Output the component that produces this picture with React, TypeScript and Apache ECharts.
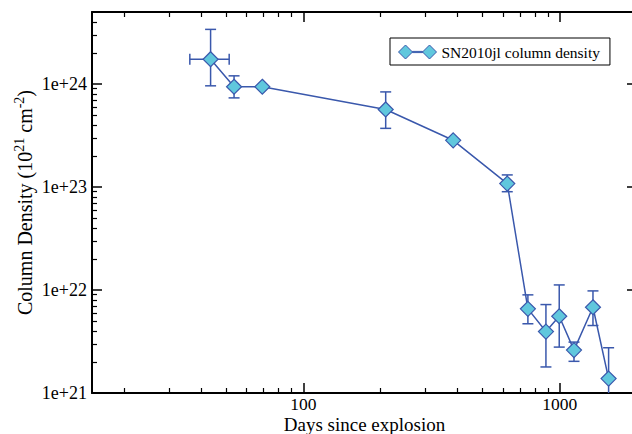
import React, { useEffect, useRef } from "react";
import * as echarts from "echarts";

// ---- data ----
const seriesName = "SN2010jl column density";
const days = [43.5, 53.7, 69.2, 209.5, 384, 624, 751, 883, 995, 1136, 1347, 1550];
const density = [1.74e24, 9.4e23, 9.4e23, 5.66e23, 2.84e23, 1.08e23, 6.56e21, 3.95e21, 5.56e21, 2.61e21, 6.8e21, 1.38e21];
const densityLow = [9.6e23, 7.33e23, null, 3.71e23, null, 9.0e22, 4.7e21, 1.79e21, 2.79e21, 2.03e21, 4.52e21, 8e20];
const densityHigh = [3.39e24, 1.2e24, null, 8.38e23, null, 1.31e23, 8.97e21, 7.22e21, 1.12e22, 3.12e21, 9.8e21, 2.75e21];
const daysLow = [36.1, null, null, null, null, null, null, null, null, null, null, null];
const daysHigh = [51.4, null, null, null, null, null, null, null, null, null, null, null];

const xMajorTicks = [100, 1000];
const xTickLabels = ["100", "1000"];
const xMinorTicks = [20, 30, 40, 50, 60, 70, 80, 90, 200, 300, 400, 500, 600, 700, 800, 900];
const yMajorTicks = [1e21, 1e22, 1e23, 1e24];
const yTickLabels = ["1e+21", "1e+22", "1e+23", "1e+24"];
const yMinorTicks = [
  2e21, 3e21, 4e21, 5e21, 6e21, 7e21, 8e21, 9e21,
  2e22, 3e22, 4e22, 5e22, 6e22, 7e22, 8e22, 9e22,
  2e23, 3e23, 4e23, 5e23, 6e23, 7e23, 8e23, 9e23,
  2e24, 3e24, 4e24,
];
const xMin = 15, xMax = 2000, yMin = 1e21, yMax = 5e24;

const LINE = "#3a58ac";
const FILL = "#60c7dd";
const FONT = "Liberation Serif";

function labelFor(values: number[], labels: string[]) {
  return (v: number) => {
    for (let i = 0; i < values.length; i++) {
      if (Math.abs(v - values[i]) / values[i] < 1e-6) return labels[i];
    }
    return "";
  };
}

export default function App() {
  const ref = useRef<HTMLDivElement>(null);
  useEffect(() => {
    if (!ref.current) return;
    const chart = echarts.init(ref.current, undefined, { renderer: "svg" });

    const axisLine = { show: true, onZero: false, lineStyle: { color: "#000", width: 2 } };
    const majTick = (vals: number[]) => ({ show: true, inside: true, length: 10, customValues: vals, lineStyle: { color: "#000", width: 1.5 } });
    const minTick = (vals: number[]) => ({ show: true, inside: true, length: 5, customValues: vals, lineStyle: { color: "#000", width: 1.2 } });
    const noLabel = { show: false };

    const xBase = { type: "log", logBase: 10, min: xMin, max: xMax, splitLine: { show: false }, gridIndex: 0 };
    const yBase = { type: "log", logBase: 10, min: yMin, max: yMax, splitLine: { show: false }, gridIndex: 0 };

    const errData = days.map((d, i) => [d, density[i], daysLow[i], daysHigh[i], densityLow[i], densityHigh[i]]);

    const option: any = {
      animation: false,
      backgroundColor: "#fff",
      grid: { left: 92, top: 12, right: -5, bottom: 41, containLabel: false, outerBoundsMode: "none" },
      legend: {
        data: [
          {
            name: seriesName,
            icon: "path://M0,7 L7,0 L14,7 L7,14 Z M14,6.4 L24,6.4 L24,7.6 L14,7.6 Z M24,7 L31,0 L38,7 L31,14 Z",
          },
        ],
        left: 390,
        top: 38,
        orient: "horizontal",
        padding: [6, 10, 5, 8],
        itemWidth: 38,
        itemHeight: 14,
        itemGap: 0,
        borderColor: "#000",
        borderWidth: 1,
        borderRadius: 0,
        backgroundColor: "#fff",
        itemStyle: { color: FILL, borderColor: LINE, borderWidth: 1 },
        lineStyle: { opacity: 0 },
        textStyle: { fontFamily: FONT, fontSize: 15.5, color: "#000", padding: [0, 0, 0, 0] },
      },
      xAxis: [
        {
          ...xBase,
          position: "bottom",
          axisLine,
          axisTick: majTick(xMajorTicks),
          axisLabel: {
            show: true,
            customValues: xMajorTicks,
            formatter: labelFor(xMajorTicks, xTickLabels),
            fontFamily: FONT,
            fontSize: 17.5,
            lineHeight: 16,
            color: "#000",
            margin: 3,
          },
          name: "Days since explosion",
          nameLocation: "middle",
          nameMoveOverlap: false,
          nameGap: 22,
          nameTextStyle: { fontFamily: FONT, fontSize: 19, lineHeight: 19, color: "#000" },
        },
        { ...xBase, position: "bottom", axisLine: { show: false }, axisTick: minTick(xMinorTicks), axisLabel: noLabel },
        { ...xBase, position: "top", axisLine, axisTick: majTick(xMajorTicks), axisLabel: noLabel },
        { ...xBase, position: "top", axisLine: { show: false }, axisTick: minTick(xMinorTicks), axisLabel: noLabel },
      ],
      yAxis: [
        {
          ...yBase,
          position: "left",
          axisLine,
          axisTick: majTick(yMajorTicks),
          axisLabel: {
            show: true,
            customValues: yMajorTicks,
            formatter: labelFor(yMajorTicks, yTickLabels),
            fontFamily: FONT,
            fontSize: 18,
            color: "#000",
            margin: 5,
          },
          name: "{n|Column Density (10}{s|21}{n| cm}{s|-2}{n|)}",
          nameLocation: "middle",
          nameRotate: 90,
          nameMoveOverlap: false,
          nameGap: 54,
          nameTextStyle: {
            fontFamily: FONT,
            color: "#000",
            rich: {
              n: { fontFamily: FONT, fontSize: 20, lineHeight: 26, color: "#000" },
              s: { fontFamily: FONT, fontSize: 14, lineHeight: 14, verticalAlign: "top", color: "#000" },
            },
          },
        },
        { ...yBase, position: "left", axisLine: { show: false }, axisTick: minTick(yMinorTicks), axisLabel: noLabel },
        { ...yBase, position: "right", axisLine, axisTick: majTick(yMajorTicks), axisLabel: noLabel },
        { ...yBase, position: "right", axisLine: { show: false }, axisTick: minTick(yMinorTicks), axisLabel: noLabel },
      ],
      series: [
        {
          type: "custom",
          name: "errors",
          xAxisIndex: 0,
          yAxisIndex: 0,
          z: 1,
          silent: true,
          encode: { x: 0, y: 1 },
          data: errData,
          renderItem: (params: any, api: any) => {
            const x = api.value(0);
            const y = api.value(1);
            const xl = api.value(2);
            const xh = api.value(3);
            const yl = api.value(4);
            const yh = api.value(5);
            const cs = params.coordSys;
            const bottom = cs.y + cs.height;
            const top = cs.y;
            const c = api.coord([x, y]);
            const cap = 5.5;
            const children: any[] = [];
            const st = { stroke: LINE, lineWidth: 1.5, fill: "none" };
            const ok = (v: number) => v != null && isFinite(v) && v > 0;
            if (ok(yl) && ok(yh)) {
              let pl = api.coord([x, yl])[1];
              let ph = api.coord([x, yh])[1];
              const clipLow = pl > bottom;
              const clipHigh = ph < top;
              pl = Math.min(pl, bottom);
              ph = Math.max(ph, top);
              children.push({ type: "line", shape: { x1: c[0], y1: pl, x2: c[0], y2: ph }, style: st });
              if (!clipLow) children.push({ type: "line", shape: { x1: c[0] - cap, y1: pl, x2: c[0] + cap, y2: pl }, style: st });
              if (!clipHigh) children.push({ type: "line", shape: { x1: c[0] - cap, y1: ph, x2: c[0] + cap, y2: ph }, style: st });
            }
            if (ok(xl) && ok(xh)) {
              const pl = api.coord([xl, y])[0];
              const ph = api.coord([xh, y])[0];
              children.push({ type: "line", shape: { x1: pl, y1: c[1], x2: ph, y2: c[1] }, style: st });
              children.push({ type: "line", shape: { x1: pl, y1: c[1] - cap, x2: pl, y2: c[1] + cap }, style: st });
              children.push({ type: "line", shape: { x1: ph, y1: c[1] - cap, x2: ph, y2: c[1] + cap }, style: st });
            }
            return { type: "group", children };
          },
        },
        {
          type: "line",
          name: seriesName,
          xAxisIndex: 0,
          yAxisIndex: 0,
          z: 3,
          data: days.map((d, i) => [d, density[i]]),
          symbol: "diamond",
          symbolSize: 15,
          showAllSymbol: true,
          lineStyle: { color: LINE, width: 1.5 },
          itemStyle: { color: FILL, borderColor: LINE, borderWidth: 1.2 },
        },
      ],
    };

    chart.setOption(option);
    return () => chart.dispose();
  }, []);

  return (
    <div
      ref={ref}
      style={{ position: "absolute", left: 0, top: 0, width: 632, height: 434, background: "#fff" }}
    />
  );
}
